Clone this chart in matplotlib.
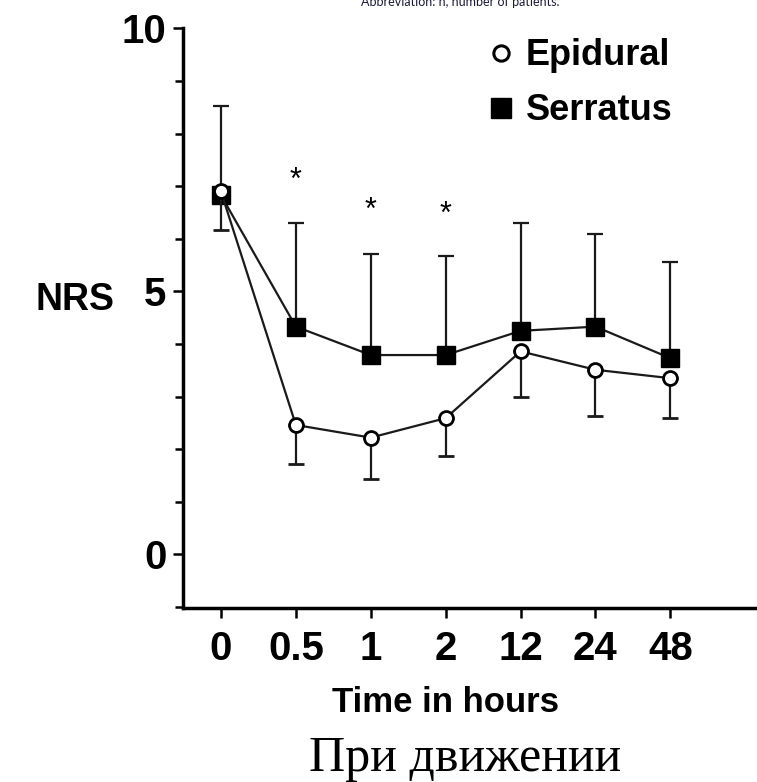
import matplotlib
matplotlib.use('Agg')
import matplotlib.pyplot as plt
from matplotlib.ticker import MultipleLocator

# time points (categorical)
hours = ["0", "0.5", "1", "2", "12", "24", "48"]

# NRS means and SD
epidural_mean = [6.9, 2.46, 2.22, 2.59, 3.86, 3.51, 3.35]
epidural_sd = [0.73, 0.75, 0.78, 0.72, 0.86, 0.88, 0.75]
serratus_mean = [6.83, 4.33, 3.79, 3.79, 4.25, 4.33, 3.73]
serratus_sd = [1.69, 1.97, 1.92, 1.89, 2.05, 1.76, 1.83]

# significance marks (index, height)
star_idx = [1, 2, 3]
star_y = [7.11, 6.54, 6.46]

bold = {'family': 'Liberation Sans', 'weight': 'bold'}

fig = plt.figure(figsize=(7.57, 7.82), dpi=100)
ax = fig.add_axes([0.2417, 0.2225, 0.7583, 0.7411])

x = list(range(len(hours)))

ax.errorbar(x, serratus_mean, yerr=[[0] * len(x), serratus_sd], color='#1a1a1a',
            lw=1.6, elinewidth=1.6, capsize=6, capthick=1.6, marker='s',
            markersize=13, mfc='black', mec='black', label='Serratus', zorder=2)
ax.errorbar(x, epidural_mean, yerr=[epidural_sd, [0] * len(x)], color='#1a1a1a',
            lw=1.6, elinewidth=1.6, capsize=6, capthick=1.6, marker='o',
            markersize=10, mfc='white', mec='black', mew=2, label='Epidural', zorder=3)

for i, yv in zip(star_idx, star_y):
    ax.text(i, yv, "*", ha='center', va='center', fontsize=22, family='Liberation Sans')

ax.set_xlim(-0.507, 7.156)
ax.set_ylim(-1.02, 10)
ax.set_xticks(x)
ax.set_xticklabels(hours, fontdict=bold, fontsize=29)
ax.set_yticks([0, 5, 10])
ax.set_yticklabels(["0", "5", "10"], fontdict=bold, fontsize=29)
ax.yaxis.set_minor_locator(MultipleLocator(1))
ax.tick_params(axis='both', which='major', length=7, width=1.8, pad=5)
ax.tick_params(axis='y', which='minor', length=5.5, width=1.8)
ax.tick_params(axis='x', pad=9)

for s in ['top', 'right']:
    ax.spines[s].set_visible(False)
for s in ['left', 'bottom']:
    ax.spines[s].set_linewidth(2.5)

h_ep = plt.Line2D([], [], ls='none', marker='o', markersize=11, mfc='white', mec='black', mew=2.2)
h_se = plt.Line2D([], [], ls='none', marker='s', markersize=14, mfc='black', mec='black')
ax.legend([h_ep, h_se], ['Epidural', 'Serratus'], loc='upper right',
          bbox_to_anchor=(0.91, 1.039), frameon=False, prop={'family': 'Liberation Sans',
          'weight': 'bold', 'size': 26}, handletextpad=0.2, labelspacing=0.55,
          handlelength=1.0)

fig.text(75 / 757, 1 - 300 / 782, "NRS", ha='center', va='center', fontsize=27, **bold)
fig.text(445 / 757, 1 - 702 / 782, "Time in hours", ha='center', va='center', fontsize=25, **bold)
fig.text(465 / 757, 1 - 771 / 782, "При движении", ha='center', va='baseline',
         fontsize=36, family='Liberation Serif')
fig.text(460 / 757, 1 - 2 / 782, "Abbreviation: n, number of patients.", ha='center',
         va='center', fontsize=9, family='Lato', color='#1a1a3a')

fig.savefig('out.png', dpi=100, facecolor='white')
